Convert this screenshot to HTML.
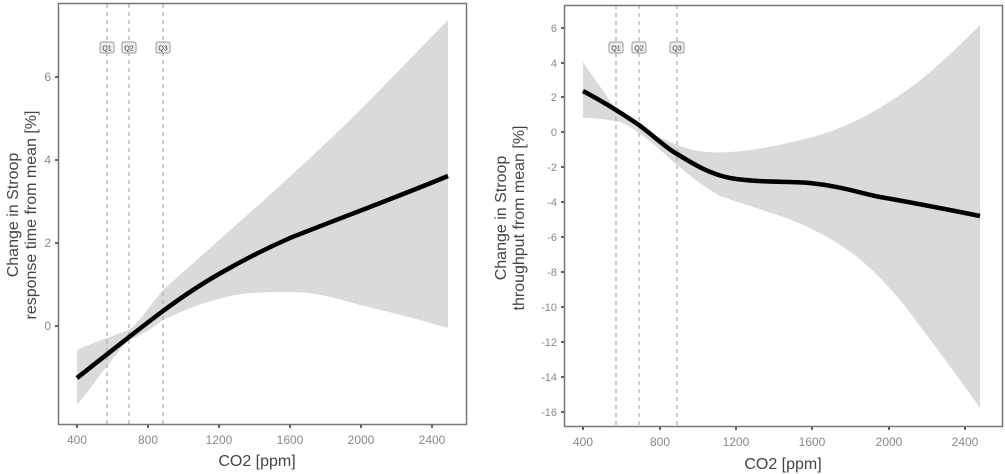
<!DOCTYPE html>
<html><head><style>body{margin:0;background:#fff}svg{display:block}text{font-family:"Liberation Sans",sans-serif}</style></head><body>
<svg width="1005" height="474" viewBox="0 0 1005 474">
<!-- LEFT -->
<path d="M77,350 C100,340 118,334 129,330 C140,322 150,305 163,290 C230,230 300,170 360,110 C400,70 430,38 448,20 L448,328 C420,320 390,312 360,305 C330,296 310,292 290,292 C270,292 250,292 230,296 C200,303 180,312 163,320 C150,330 140,336 129,340 C110,360 90,390 77,405 Z" fill="#dadada"/>
<g stroke="#aaa" stroke-width="1.2" stroke-dasharray="4,4"><line x1="107" y1="4" x2="107" y2="424"/><line x1="129" y1="4" x2="129" y2="424"/><line x1="163" y1="4" x2="163" y2="424"/></g>
<path d="M77,378 C110,352 140,328 163,311 C190,291 205,282 219,274 C245,259 265,249 290,238 C330,222 400,196 448,176" fill="none" stroke="#000" stroke-width="4.5"/>
<rect x="58.5" y="3.5" width="408" height="421" fill="none" stroke="#777" stroke-width="1.5"/>
<g font-size="7" fill="#333" text-anchor="middle"><rect x="100" y="42" width="14" height="11" rx="2" fill="#eee" stroke="#999"/><text x="107" y="50.5">Q1</text><rect x="122" y="42" width="14" height="11" rx="2" fill="#eee" stroke="#999"/><text x="129" y="50.5">Q2</text><rect x="156" y="42" width="14" height="11" rx="2" fill="#eee" stroke="#999"/><text x="163" y="50.5">Q3</text></g>
<g stroke="#333" stroke-width="1.5"><line x1="55" y1="77" x2="58" y2="77"/><line x1="55" y1="160" x2="58" y2="160"/><line x1="55" y1="243" x2="58" y2="243"/><line x1="55" y1="326" x2="58" y2="326"/>
<line x1="77" y1="425" x2="77" y2="428"/><line x1="148" y1="425" x2="148" y2="428"/><line x1="219" y1="425" x2="219" y2="428"/><line x1="290" y1="425" x2="290" y2="428"/><line x1="361" y1="425" x2="361" y2="428"/><line x1="432" y1="425" x2="432" y2="428"/></g>
<g font-size="12" fill="#888" text-anchor="end"><text x="51" y="81">6</text><text x="51" y="164">4</text><text x="51" y="247">2</text><text x="51" y="330">0</text></g>
<g font-size="12" fill="#888" text-anchor="middle"><text x="77" y="444">400</text><text x="148" y="444">800</text><text x="219" y="444">1200</text><text x="290" y="444">1600</text><text x="361" y="444">2000</text><text x="432" y="444">2400</text></g>
<text x="257" y="466" font-size="16" fill="#444" text-anchor="middle">CO2 [ppm]</text>
<text transform="translate(18,215) rotate(-90)" font-size="16" fill="#444" text-anchor="middle">Change in Stroop</text>
<text transform="translate(36,215) rotate(-90)" font-size="16" fill="#444" text-anchor="middle">response time from mean  [%]</text>

<!-- RIGHT -->
<path d="M583,62 C595,80 610,100 620,115 C640,128 660,138 677,145 C695,152 710,153 730,152 C760,150 790,143 820,135 C850,125 870,115 900,95 C930,75 960,45 980,25 L980,408 C960,380 935,345 900,300 C870,265 850,248 810,228 C780,214 760,210 720,196 C700,185 690,175 677,165 C650,140 630,125 620,122 C605,119 595,118 583,118 Z" fill="#dadada"/>
<g stroke="#aaa" stroke-width="1.2" stroke-dasharray="4,4"><line x1="616" y1="5" x2="616" y2="427"/><line x1="639" y1="5" x2="639" y2="427"/><line x1="677" y1="5" x2="677" y2="427"/></g>
<path d="M583,91 C600,100 620,112 639,125 C655,137 665,147 677,154 C695,165 710,174 730,178 C760,183 790,181 810,183 C840,186 860,193 880,197 C920,204 950,210 980,216" fill="none" stroke="#000" stroke-width="4.5"/>
<rect x="564.5" y="5.5" width="438" height="421" fill="none" stroke="#777" stroke-width="1.5"/>
<g font-size="7" fill="#333" text-anchor="middle"><rect x="609" y="42" width="14" height="11" rx="2" fill="#eee" stroke="#999"/><text x="616" y="50.5">Q1</text><rect x="632" y="42" width="14" height="11" rx="2" fill="#eee" stroke="#999"/><text x="639" y="50.5">Q2</text><rect x="670" y="42" width="14" height="11" rx="2" fill="#eee" stroke="#999"/><text x="677" y="50.5">Q3</text></g>
<g stroke="#333" stroke-width="1.5">
<line x1="561" y1="28" x2="564" y2="28"/><line x1="561" y1="63" x2="564" y2="63"/><line x1="561" y1="97" x2="564" y2="97"/><line x1="561" y1="132" x2="564" y2="132"/><line x1="561" y1="167" x2="564" y2="167"/><line x1="561" y1="202" x2="564" y2="202"/><line x1="561" y1="237" x2="564" y2="237"/><line x1="561" y1="272" x2="564" y2="272"/><line x1="561" y1="307" x2="564" y2="307"/><line x1="561" y1="342" x2="564" y2="342"/><line x1="561" y1="377" x2="564" y2="377"/><line x1="561" y1="412" x2="564" y2="412"/>
<line x1="583" y1="427" x2="583" y2="430"/><line x1="660" y1="427" x2="660" y2="430"/><line x1="736" y1="427" x2="736" y2="430"/><line x1="812" y1="427" x2="812" y2="430"/><line x1="889" y1="427" x2="889" y2="430"/><line x1="965" y1="427" x2="965" y2="430"/></g>
<g font-size="11" fill="#888" text-anchor="end"><text x="557" y="32">6</text><text x="557" y="67">4</text><text x="557" y="101">2</text><text x="557" y="136">0</text><text x="557" y="171">-2</text><text x="557" y="206">-4</text><text x="557" y="241">-6</text><text x="557" y="276">-8</text><text x="557" y="311">-10</text><text x="557" y="346">-12</text><text x="557" y="381">-14</text><text x="557" y="416">-16</text></g>
<g font-size="12" fill="#888" text-anchor="middle"><text x="583" y="446">400</text><text x="660" y="446">800</text><text x="736" y="446">1200</text><text x="812" y="446">1600</text><text x="889" y="446">2000</text><text x="965" y="446">2400</text></g>
<text x="783" y="469" font-size="16" fill="#444" text-anchor="middle">CO2 [ppm]</text>
<text transform="translate(506,218) rotate(-90)" font-size="16" fill="#444" text-anchor="middle">Change in Stroop</text>
<text transform="translate(524,218) rotate(-90)" font-size="16" fill="#444" text-anchor="middle">throughput from mean [%]</text>
</svg>
</body></html>
